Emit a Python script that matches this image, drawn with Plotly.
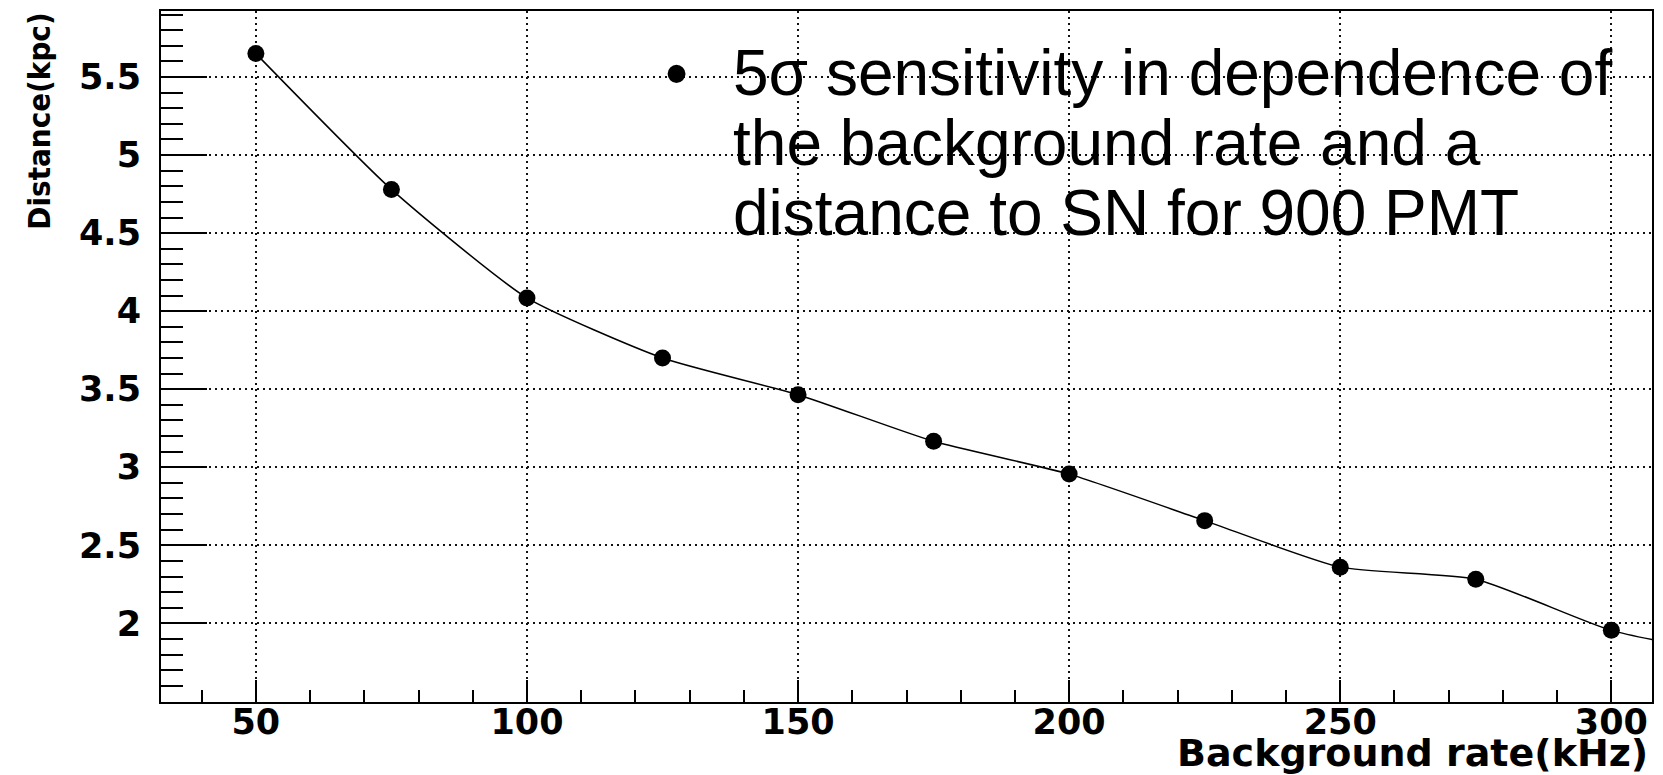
import plotly.graph_objects as go

# ---- data ----
rate_khz = [50, 75, 100, 125, 150, 175, 200, 225, 250, 275, 300, 325]
distance_kpc = [5.65, 4.78, 4.085, 3.70, 3.465, 3.166, 2.956, 2.658, 2.36, 2.283, 1.955, 1.78]

x_tickvals = [50, 100, 150, 200, 250, 300]
x_ticktext = ["50", "100", "150", "200", "250", "300"]
y_tickvals = [2, 2.5, 3, 3.5, 4, 4.5, 5, 5.5]
y_ticktext = ["2", "2.5", "3", "3.5", "4", "4.5", "5", "5.5"]

x_title = "Background rate(kHz)"
y_title = "Distance(kpc)"
note_lines = ["5σ sensitivity in dependence of",
              "the background rate and a",
              "distance to SN for 900 PMT"]

# ---- layout geometry ----
W, H = 1663, 775
L, R, T, B = 161, 9, 11, 73
pw, ph = W - L - R, H - T - B


def px(x):
    return (x - L) / pw


def py(y):
    return (H - B - y) / ph


fig = go.Figure()
fig.add_trace(go.Scatter(
    x=rate_khz, y=distance_kpc, mode="lines+markers",
    line=dict(color="black", width=1.5, shape="spline", smoothing=0.55),
    marker=dict(color="black", size=17, symbol="circle"),
    cliponaxis=True, hoverinfo="x+y",
))

tickfont = dict(family="DejaVu Sans", size=35, color="black", weight="bold")
grid = dict(showgrid=True, gridcolor="#111", gridwidth=1.5, griddash="2px,4px")

fig.update_xaxes(
    range=[32.5, 307.5], tickmode="array", tickvals=x_tickvals, ticktext=x_ticktext,
    ticks="inside", ticklen=22, tickwidth=2, tickcolor="black",
    showline=True, linewidth=2, linecolor="black", mirror=True, zeroline=False,
    minor=dict(tickmode="linear", tick0=0, dtick=10, ticks="inside", ticklen=12,
               tickwidth=2, tickcolor="black", showgrid=False),
    tickfont=tickfont, ticklabelstandoff=-12, **grid,
)
fig.update_yaxes(
    range=[1.496, 5.923], tickmode="array", tickvals=y_tickvals, ticktext=y_ticktext,
    ticks="inside", ticklen=46, tickwidth=2, tickcolor="black",
    showline=True, linewidth=2, linecolor="black", mirror=True, zeroline=False,
    minor=dict(tickmode="linear", tick0=0, dtick=0.1, ticks="inside", ticklen=22,
               tickwidth=2, tickcolor="black", showgrid=False),
    tickfont=tickfont, ticklabelstandoff=11, **grid,
)

annotations = [
    dict(text=y_title, textangle=-90, x=px(38), y=py(11), xref="paper", yref="paper",
         xanchor="center", yanchor="top", showarrow=False,
         font=dict(family="DejaVu Sans Condensed, DejaVu Sans", size=31, color="black", weight="bold")),
    dict(text=x_title, x=px(1652), y=py(753), xref="paper", yref="paper",
         xanchor="right", yanchor="middle", showarrow=False,
         font=dict(family="DejaVu Sans", size=38, color="black", weight="bold")),
    dict(text="•", x=px(677), y=py(72.8), xref="paper", yref="paper",
         xanchor="center", yanchor="middle", showarrow=False,
         font=dict(family="Liberation Sans", size=66, color="black")),
]
for i, line in enumerate(note_lines):
    annotations.append(dict(
        text=line, x=px(732), y=py(72.8 + 70 * i), xref="paper", yref="paper",
        xanchor="left", yanchor="middle", showarrow=False,
        font=dict(family="Liberation Sans", size=64, color="black")))

fig.update_layout(
    width=W, height=H, margin=dict(l=L, r=R, t=T, b=B, pad=0),
    paper_bgcolor="white", plot_bgcolor="white", showlegend=False,
    annotations=annotations,
)

fig.write_html("out.html")
